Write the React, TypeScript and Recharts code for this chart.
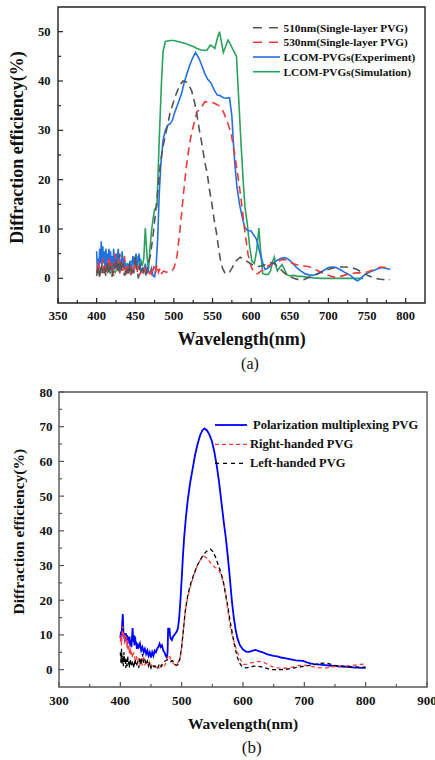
import React from 'react';
import { LineChart, Line, XAxis, YAxis, ReferenceArea } from 'recharts';

const SERIF = "'Times New Roman', 'Liberation Serif', serif";

// ---- (a) data: wavelength (nm), diffraction efficiency (%) ----
const a510: number[][] = [
  [400, 0.5], [402, 2.5], [404, 0], [406, 3], [408, 1], [410, 2], [412, 0.5], [414, 3.5], [416, 1],
  [418, 2.5], [420, 0.3], [422, 3], [424, 1.5], [426, 4], [428, 1], [430, 5], [432, 1.5], [434, 3],
  [436, 0.5], [438, 2], [440, 1], [442, 3], [444, 0.5], [446, 2.5], [448, 1], [450, 4.5], [452, 2],
  [454, 0], [456, 3], [458, 1.5], [460, 2], [462, 0.5], [464, 1], [466, 2], [470, 5], [474, 10],
  [478, 16], [482, 22.5], [485, 26], [489, 29], [495, 33.5], [502, 37], [508, 39.3], [512, 40],
  [516, 39.8], [520, 39], [523, 38], [527, 35.5], [530, 33], [533, 30], [536, 27.5], [540, 23.5],
  [543, 21.4], [546, 18], [549, 15.3], [552, 12], [555, 9.3], [558, 6], [560, 3.9], [563, 2],
  [566, 1.1], [571, 1], [575, 2], [580, 3.5], [586, 4.3], [592, 3.7], [597, 3.2], [603, 2.6],
  [610, 2.4], [617, 2.7], [624, 3.2], [630, 3], [636, 2.2], [642, 1.2], [648, 0.5], [655, 0],
  [662, -0.3], [668, -0.3], [675, 0.2], [682, 0.6], [690, 1.2], [698, 1.7], [706, 2.1], [714, 2.3],
  [722, 2.3], [730, 2.2], [737, 1.8], [744, 1.2], [752, 0.5], [760, 0], [768, -0.2], [775, -0.3], [780, -0.3],
];

const a530: number[][] = [
  [400, 1], [402, 3.5], [404, 0.5], [406, 2], [408, 4], [410, 0.5], [412, 3], [414, 1], [416, 4.5],
  [418, 1.5], [420, 3], [422, 0.5], [424, 5], [426, 2], [428, 4], [430, 1], [432, 3.5], [434, 1.5],
  [436, 4.5], [438, 0.5], [440, 2.5], [442, 1], [444, 3], [446, 0.5], [448, 2], [450, 3.5], [452, 1],
  [454, 2.5], [456, 0.8], [458, 1.5], [460, 1], [462, 2], [464, 0.8], [466, 1.5], [468, 1], [470, 1.5],
  [472, 0.5], [474, 2.5], [476, 1], [478, 2.8], [480, 1.2], [482, 2], [484, 1], [487, 1.5], [490, 1.2],
  [494, 1.6], [497, 1.5], [500, 2], [504, 4.5], [508, 10], [512, 16.5], [516, 22.5], [520, 27],
  [523, 29.5], [527, 32], [530, 33.8], [534, 34.3], [540, 35.8], [546, 35.7], [551, 35.6], [556, 35.2],
  [560, 34.8], [564, 33.8], [568, 32.2], [574, 29.5], [579, 24.8], [584, 19.5], [588, 14.7], [592, 9.3],
  [596, 4.8], [600, 2.4], [603, 1.4], [606, 0.9], [609, 1], [613, 1.5], [618, 2], [623, 2.6], [628, 3],
  [634, 3.4], [640, 3.8], [645, 3.7], [650, 3.3], [656, 2.9], [662, 2.6], [668, 2.5], [674, 2.4],
  [680, 2], [687, 1.5], [694, 1], [700, 0.6], [706, 0.3], [712, 0.3], [718, 0.5], [724, 0.8], [730, 1],
  [737, 1.1], [744, 1.1], [750, 1.3], [756, 1.6], [762, 2], [768, 2.3], [774, 2.2], [780, 2],
];

const aExp: number[][] = [
  [400, 5.5], [401, 1.5], [402, 4], [403, 2], [404, 6], [405, 3], [406, 7.5], [407, 2.5], [408, 6.5],
  [409, 3], [410, 5.5], [411, 1.5], [412, 6], [413, 2.5], [414, 5], [415, 3.5], [416, 6], [417, 1.2],
  [418, 5.5], [419, 2.5], [420, 4.5], [421, 1], [422, 6], [424, 2], [425, 5], [426, 3], [428, 6],
  [429, 1.5], [430, 4], [432, 1.5], [433, 5.5], [435, 2], [436, 4], [438, 1], [440, 3], [441, 1],
  [443, 3.5], [445, 1.5], [447, 4.5], [449, 2], [451, 5], [453, 2.5], [455, 5], [457, 1.5], [459, 2],
  [461, 1.2], [463, 3], [465, 1], [467, 1.5], [469, 1], [471, 2], [473, 0.5], [475, 0.3], [477, 2.5],
  [479, 8], [481, 17], [483, 23], [486, 28], [489, 30], [492, 31], [495, 31.3], [498, 32], [501, 33.6],
  [505, 35.3], [510, 37.5], [513, 39.5], [517, 41.5], [520, 43], [523, 44.2], [526, 45.2], [528, 45.8],
  [531, 45], [534, 44], [537, 42.8], [540, 41.5], [544, 40.3], [548, 39.6], [552, 38.2], [556, 37.2],
  [560, 37], [564, 36.6], [568, 36.5], [572, 36.6], [575, 33], [577, 27.5], [579, 23], [581.5, 18.7],
  [585, 15], [589, 12], [592, 10.2], [596, 9.7], [600, 9.6], [604, 8.6], [607, 7.9], [610, 6],
  [613, 4.2], [616, 2.6], [618, 1.8], [621, 2], [624, 2.4], [628, 3], [633, 3.6], [638, 4], [643, 4.2],
  [647, 4], [651, 3.5], [655, 2.8], [660, 2], [665, 1.4], [670, 0.9], [675, 0.7], [680, 0.6], [685, 0.9],
  [690, 1.3], [695, 1.7], [700, 2.2], [705, 2.3], [710, 2.2], [715, 1.8], [720, 1.3], [725, 0.9],
  [730, 0.4], [735, -0.3], [738, -0.5], [742, 0], [746, 0.6], [750, 1], [755, 1.4], [760, 1.7],
  [765, 2], [770, 2.2], [775, 2], [780, 1.8],
];

const aSim: number[][] = [
  [400, 1.2], [405, 1.2], [410, 1.3], [415, 1.6], [418, 1], [421, 1.8], [424, 1.2], [427, 2.2],
  [430, 1.5], [433, 2.8], [436, 2], [439, 3], [442, 2.5], [445, 3.5], [448, 3.8], [451, 4.2], [454, 4.3],
  [457, 3.8], [459, 2.5], [461, 4], [463, 10.2], [465, 5], [467, 1.5], [469, 6], [471, 9.5], [473, 12],
  [475, 14], [478, 14.5], [481, 28], [484, 40], [486, 46], [489, 48], [495, 48.2], [500, 48.2],
  [505, 48], [510, 47.8], [515, 47.6], [520, 47.3], [525, 47], [530, 46.6], [535, 46.3], [540, 46.2],
  [543, 46.3], [547, 47.3], [550, 47], [553, 46.6], [556, 48.5], [559, 50], [562, 47.5], [564, 45.8],
  [567, 47], [570, 48.3], [573, 47.5], [576, 46.5], [581, 45], [584, 36], [587, 27], [590, 19],
  [592, 14.5], [595, 11], [598, 6.5], [601, 3.5], [604, 3], [607, 5.5], [610, 10.2], [612, 6],
  [615, 1], [618, 0.8], [622, 0.8], [625, 1.5], [628, 3.5], [630, 4.3], [632, 2.5], [634, 1.5],
  [637, 2.2], [640, 2.8], [643, 1.8], [646, 0.8], [650, 0.5], [655, 0.6], [660, 0.4], [665, 0.4],
  [670, 0.3], [680, 0.1], [690, 0], [700, 0], [710, 0], [720, 0], [730, 0], [740, 0], [745, 0],
];

// ---- (b) data ----
const bPol: number[][] = [
  [400, 9], [401, 11], [402, 9.5], [403, 13], [404, 16], [405, 11], [406, 9], [407, 10.5], [408, 8],
  [409, 10.5], [410, 9], [411, 10], [412, 7.5], [413, 9.5], [414, 8], [415, 9.5], [416, 7], [417, 8.5],
  [418, 6.5], [419, 9], [420, 12], [421, 8], [422, 10], [423, 7], [424, 9.5], [425, 7.5], [426, 8],
  [427, 6], [428, 7.5], [430, 6.5], [432, 7.5], [434, 5.5], [436, 6.5], [438, 5], [440, 6], [442, 4.5],
  [444, 5.5], [446, 4], [448, 5], [450, 3.5], [452, 5], [454, 4], [456, 5.5], [458, 5], [460, 6],
  [462, 6.5], [464, 7.5], [466, 6.5], [468, 7], [470, 5.5], [472, 5], [474, 4], [476, 3.5], [477, 5],
  [478, 12], [479, 11], [480, 12], [481, 10], [482, 9], [484, 8.5], [486, 9.5], [488, 10], [490, 10.5],
  [492, 11], [494, 12], [496, 15], [498, 20], [500, 26], [502, 32.5], [504, 38], [507, 44], [510, 49],
  [514, 54], [518, 58], [522, 62], [526, 65], [530, 67.5], [534, 69], [537, 69.5], [541, 69],
  [545, 67.8], [549, 66], [553, 63], [557, 59], [561, 54], [565, 48], [569, 42], [572, 38], [575, 33],
  [578, 27.5], [582, 19.5], [585, 15], [588, 11.5], [591, 9], [595, 7], [600, 5.8], [605, 5.2],
  [610, 5.1], [616, 5.5], [620, 5.7], [624, 5.5], [628, 5.2], [632, 5], [636, 4.7], [640, 4.4],
  [645, 4.2], [650, 4], [656, 3.8], [662, 3.5], [668, 3.3], [674, 3.1], [680, 2.9], [686, 2.7],
  [692, 2.6], [698, 2.5], [704, 2.1], [710, 1.8], [716, 1.6], [722, 1.5], [728, 1.4], [734, 1.3],
  [740, 1.2], [746, 1.1], [752, 1], [758, 0.9], [764, 0.9], [770, 0.8], [776, 0.7], [782, 0.6],
  [788, 0.6], [794, 0.5], [800, 0.5],
];

const bRight: number[][] = [
  [400, 8], [401, 10], [402, 7], [403, 11], [404, 12.5], [405, 9], [406, 10.5], [407, 7.5], [408, 10],
  [409, 8], [410, 9.5], [411, 6], [412, 8.5], [413, 5.5], [414, 7], [415, 4.5], [416, 6.5], [417, 4],
  [418, 5.5], [420, 3.5], [422, 5], [424, 3], [426, 4], [428, 2], [430, 3], [432, 1.5], [434, 2.5],
  [436, 1.2], [438, 4], [440, 1.5], [442, 2], [444, 1], [446, 1.8], [448, 0.8], [450, 1.5], [452, 0.8],
  [455, 1.2], [458, 0.6], [461, 1], [464, 0.5], [467, 1], [470, 0.5], [473, 1.5], [476, 2.5], [478, 4],
  [480, 4.2], [482, 3], [485, 2], [488, 1.5], [491, 1.2], [494, 2], [496, 3], [498, 4], [500, 6.5],
  [502, 10], [504, 13.5], [506, 17], [509, 20], [512, 22.5], [516, 25], [520, 27.3], [525, 29.8],
  [530, 31.5], [536, 32.7], [540, 32.3], [544, 31.5], [548, 30.5], [552, 29.8], [556, 29.3],
  [560, 28.8], [564, 27.5], [568.5, 25], [573, 20], [579, 12.5], [583, 9.5], [587.5, 6.8], [592, 4.5],
  [595.5, 3], [601, 1.5], [605, 1.5], [610, 1.8], [615, 2], [620, 2.2], [625, 2.4], [630, 2.3],
  [635, 2], [640, 1.5], [645, 1], [650, 0.7], [656, 0.5], [662, 0.4], [668, 0.4], [674, 0.5],
  [680, 0.7], [686, 1], [692, 1.2], [698, 1.3], [704, 1.2], [710, 1], [716, 0.8], [722, 0.6],
  [728, 0.5], [734, 0.5], [740, 0.6], [746, 0.8], [752, 1], [758, 1], [764, 1.1], [770, 1.1],
  [776, 1.2], [782, 1.3], [788, 1.4], [794, 1.6], [800, 1.5],
];

const bLeft: number[][] = [
  [400, 5], [401, 2], [402, 6], [403, 1.5], [404, 4], [405, 1], [406, 5], [407, 2], [408, 3.5],
  [409, 0.5], [410, 3], [411, 1], [412, 4], [413, 1.5], [414, 2.5], [415, 0.5], [416, 3], [418, 1],
  [420, 2.5], [422, 0.5], [424, 3], [426, 1], [428, 2], [430, 0.5], [432, 3.5], [434, 1.5], [436, 4.5],
  [438, 2], [440, 3], [442, 1.5], [444, 2.5], [446, 1], [448, 2], [450, 0.5], [452, 1.5], [455, 0.8],
  [458, 1.2], [461, 0.5], [464, 1.8], [467, 1], [470, 2.2], [473, 2.5], [476, 2.8], [479, 2.6],
  [482, 2.3], [485, 2.6], [488, 2], [491, 1.2], [494, 1.5], [497, 3], [500, 6.5], [502, 10],
  [504, 13.5], [506, 17], [509, 20.5], [512, 23], [516, 25.5], [520, 27.5], [525, 29.8], [530, 31.5],
  [535, 33], [540, 34], [544, 34.5], [547, 34.7], [551, 34], [555, 32.5], [559, 30.5], [563, 28.5],
  [567, 26], [571, 22.5], [575, 18.5], [579, 14], [583, 10], [587, 6.5], [590, 4], [594, 2],
  [598, 1], [602, 0.6], [606, 0.5], [612, 0.8], [618, 1], [624, 1], [630, 0.8], [636, 0.5],
  [642, 0.2], [648, 0], [655, 0], [662, 0], [670, 0.1], [678, 0.3], [686, 0.6], [694, 0.8],
  [702, 1], [710, 1.3], [718, 1.5], [726, 1.8], [732, 1.9], [738, 1.8], [744, 1.5], [750, 1.2],
  [758, 1], [766, 0.9], [774, 0.8], [782, 0.8], [790, 0.7], [800, 0.7],
];

// ticks
const aXMajor = [350, 400, 450, 500, 550, 600, 650, 700, 750, 800];
const aXMinor = [375, 425, 475, 525, 575, 625, 675, 725, 775];
const aYMajor = [0, 10, 20, 30, 40, 50];
const aYMinor = [5, 15, 25, 35, 45];
const bXMajor = [300, 400, 500, 600, 700, 800, 900];
const bXMinor = [350, 450, 550, 650, 750, 850];
const bYMajor = [0, 10, 20, 30, 40, 50, 60, 70, 80];
const bYMinor = [5, 15, 25, 35, 45, 55, 65, 75];

const pts = (arr: number[][]) => arr.map(([x, y]) => ({ x, y }));

const makeXTick = (majors: number[], color: string, fontSize: number, dy: number) => (p: any) => {
  const v = p.payload.value;
  const major = majors.includes(v);
  return (
    <g>
      <line x1={p.x} x2={p.x} y1={p.y} y2={p.y - (major ? 5 : 3)} stroke={color} strokeWidth={1.2} />
      {major && (
        <text x={p.x} y={p.y + dy} textAnchor="middle" dominantBaseline="central"
          fontFamily={SERIF} fontWeight="bold" fontSize={fontSize} fill="#111">{v}</text>
      )}
    </g>
  );
};

const makeYTick = (majors: number[], color: string, fontSize: number, gap: number) => (p: any) => {
  const v = p.payload.value;
  const major = majors.includes(v);
  return (
    <g>
      <line x1={p.x} x2={p.x + (major ? 5 : 3)} y1={p.y} y2={p.y} stroke={color} strokeWidth={1.2} />
      {major && (
        <text x={p.x - gap} y={p.y} textAnchor="end" dominantBaseline="central"
          fontFamily={SERIF} fontWeight="bold" fontSize={fontSize} fill="#111">{v}</text>
      )}
    </g>
  );
};

const txt = { fontFamily: SERIF, fontWeight: 'bold' as const, fill: '#111' };

export default function App() {
  return (
    <div style={{ position: 'absolute', left: 0, top: 0, width: 435, height: 760, background: '#fff' }}>
      <div style={{ position: 'absolute', left: 0, top: 0 }}>
        <LineChart width={435} height={345} margin={{ top: 7, right: 10, bottom: 0, left: 0 }}>
          <XAxis dataKey="x" type="number" domain={[350, 825]} allowDataOverflow
            ticks={[...aXMajor, ...aXMinor].sort((a, b) => a - b)} interval={0}
            height={42} axisLine={false} tickLine={false} tickSize={0} tickMargin={0}
            tick={makeXTick(aXMajor, '#222', 12.5, 13)} />
          <YAxis type="number" domain={[-5, 55]} allowDataOverflow
            ticks={[...aYMajor, ...aYMinor].sort((a, b) => a - b)} interval={0}
            width={58} axisLine={false} tickLine={false} tickSize={0} tickMargin={0}
            tick={makeYTick(aYMajor, '#222', 12.5, 7.5)} />
          <ReferenceArea x1={350} x2={825} y1={-5} y2={55} fill="none" stroke="#222" strokeWidth={1.4} />
          <Line data={pts(aSim)} dataKey="y" type="linear" stroke="#2ca25f" strokeWidth={1.6} dot={false} isAnimationActive={false} />
          <Line data={pts(aExp)} dataKey="y" type="linear" stroke="#2171e0" strokeWidth={1.6} dot={false} isAnimationActive={false} />
          <Line data={pts(a530)} dataKey="y" type="linear" stroke="#ef3a3a" strokeWidth={1.6} strokeDasharray="8 5" dot={false} isAnimationActive={false} />
          <Line data={pts(a510)} dataKey="y" type="linear" stroke="#555" strokeWidth={1.6} strokeDasharray="8 5" dot={false} isAnimationActive={false} />
        </LineChart>
      </div>

      <div style={{ position: 'absolute', left: 0, top: 370 }}>
        <LineChart width={435} height={340} margin={{ top: 22, right: 8, bottom: 0, left: 0 }}>
          <XAxis dataKey="x" type="number" domain={[300, 900]} allowDataOverflow
            ticks={[...bXMajor, ...bXMinor].sort((a, b) => a - b)} interval={0}
            height={23} axisLine={false} tickLine={false} tickSize={0} tickMargin={0}
            tick={makeXTick(bXMajor, '#555', 13, 13.7)} />
          <YAxis type="number" domain={[-5, 80]} allowDataOverflow
            ticks={[...bYMajor, ...bYMinor].sort((a, b) => a - b)} interval={0}
            width={59} axisLine={false} tickLine={false} tickSize={0} tickMargin={0}
            tick={makeYTick(bYMajor, '#555', 13, 6.5)} />
          <ReferenceArea x1={300} x2={900} y1={-5} y2={80} fill="none" stroke="#555" strokeWidth={1.4} />
          <Line data={pts(bPol)} dataKey="y" type="linear" stroke="#0000ff" strokeWidth={1.8} dot={false} isAnimationActive={false} />
          <Line data={pts(bRight)} dataKey="y" type="linear" stroke="#ff3b3b" strokeWidth={1.3} strokeDasharray="4 3" dot={false} isAnimationActive={false} />
          <Line data={pts(bLeft)} dataKey="y" type="linear" stroke="#000" strokeWidth={1.3} strokeDasharray="4 3" dot={false} isAnimationActive={false} />
        </LineChart>
      </div>

      <svg width={435} height={760} style={{ position: 'absolute', left: 0, top: 0, pointerEvents: 'none' }}>
        {/* legend (a) */}
        <line x1={253} x2={280} y1={27.7} y2={27.7} stroke="#555" strokeWidth={1.6} strokeDasharray="9 7" />
        <text x={283.5} y={27.7} dominantBaseline="central" fontSize={11.3} {...txt}>510nm(Single-layer PVG)</text>
        <line x1={253} x2={280} y1={42.3} y2={42.3} stroke="#ef3a3a" strokeWidth={1.6} strokeDasharray="9 7" />
        <text x={283.5} y={42.3} dominantBaseline="central" fontSize={11.3} {...txt}>530nm(Single-layer PVG)</text>
        <line x1={253} x2={280} y1={57} y2={57} stroke="#2171e0" strokeWidth={1.6} />
        <text x={283.5} y={57} dominantBaseline="central" fontSize={11.3} {...txt}>LCOM-PVGs(Experiment)</text>
        <line x1={253} x2={280} y1={71.7} y2={71.7} stroke="#2ca25f" strokeWidth={1.6} />
        <text x={283.5} y={71.7} dominantBaseline="central" fontSize={11.3} {...txt}>LCOM-PVGs(Simulation)</text>

        {/* titles (a) */}
        <text x={241.7} y={339} textAnchor="middle" dominantBaseline="central" fontSize={18} {...txt}>Wavelength(nm)</text>
        <text x={17.3} y={147.5} textAnchor="middle" dominantBaseline="central" fontSize={18} {...txt}
          transform="rotate(-90 17.3 147.5)">Diffraction efficiency(%)</text>
        <text x={250} y={363} textAnchor="middle" dominantBaseline="central" fontSize={16} fontFamily={SERIF} fill="#111">(a)</text>

        {/* legend (b) */}
        <line x1={215} x2={247} y1={425} y2={425} stroke="#0000ff" strokeWidth={1.8} />
        <text x={253} y={425} dominantBaseline="central" fontSize={12.5} {...txt}>Polarization multiplexing PVG</text>
        <line x1={215} x2={247} y1={444.3} y2={444.3} stroke="#ff3b3b" strokeWidth={1.2} strokeDasharray="4 3" />
        <text x={250} y={444.3} dominantBaseline="central" fontSize={12.5} {...txt}>Right-handed PVG</text>
        <line x1={215} x2={247} y1={463.3} y2={463.3} stroke="#000" strokeWidth={1.2} strokeDasharray="4 4" />
        <text x={250} y={463.3} dominantBaseline="central" fontSize={12.5} {...txt}>Left-handed PVG</text>

        {/* titles (b) */}
        <text x={243} y={723} textAnchor="middle" dominantBaseline="central" fontSize={15.5} {...txt}>Wavelength(nm)</text>
        <text x={18.3} y={531.7} textAnchor="middle" dominantBaseline="central" fontSize={15.5} {...txt}
          transform="rotate(-90 18.3 531.7)">Diffraction efficiency(%)</text>
        <text x={251.7} y={747.5} textAnchor="middle" dominantBaseline="central" fontSize={17} fontFamily={SERIF} fill="#111">(b)</text>
      </svg>
    </div>
  );
}
